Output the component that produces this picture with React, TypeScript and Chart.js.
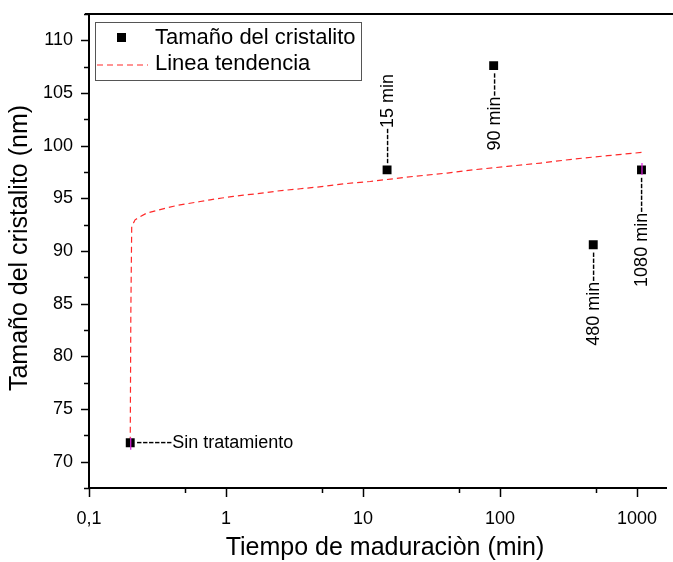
import React, { useEffect, useRef } from 'react';
import { Chart, registerables } from 'chart.js';

Chart.register(...registerables);

// Measured crystallite size per maturation time
const timeMinutes = [0.2, 15, 90, 480, 1080];
const crystalliteSize = [71.8, 97.7, 107.6, 90.6, 97.7];
const pointLabels = ['------Sin tratamiento', '------15 min', '90 min----', '480 min-----', '1080 min------'];

// Trend line traced along the time axis
const trendTime = [0.2, 0.202, 0.205, 0.217, 0.236, 0.264, 0.313, 0.37, 0.438, 0.532, 0.648, 0.767, 0.934, 1.13, 1.34, 1.68, 2.36, 3.49, 5.14, 7.66, 11.3, 15.9, 23.4, 41.3, 64.3, 113, 199, 346, 611, 1080];
const trendSize = [71.8, 84.0, 92.33, 92.96, 93.25, 93.6, 93.85, 94.1, 94.32, 94.51, 94.7, 94.86, 95.03, 95.18, 95.31, 95.43, 95.69, 95.91, 96.13, 96.41, 96.6, 96.83, 97.08, 97.4, 97.71, 98.03, 98.35, 98.73, 99.05, 99.36];

// Axis ticks
const xMajorTicks = [0.1, 1, 10, 100, 1000];
const xMajorLabels = ['0,1', '1', '10', '100', '1000'];
const xMinorTicks = [0.5, 5, 50, 500];
const yMajorTicks = [70, 75, 80, 85, 90, 95, 100, 105, 110];
const yMinorTicks = [67.5, 72.5, 77.5, 82.5, 87.5, 92.5, 97.5, 102.5, 107.5, 112.5];

const FONT = '"Liberation Sans", Arial, sans-serif';
const TREND_COLOR = '#ff2a2a';

const decorPlugin = {
  id: 'decor',
  afterDraw(chart: any) {
    const { ctx, chartArea, scales } = chart;
    const xs = scales.x;
    const ys = scales.y;
    ctx.save();

    // top frame line
    ctx.strokeStyle = '#000';
    ctx.lineWidth = 2;
    ctx.beginPath();
    ctx.moveTo(chartArea.left - 4, chartArea.top);
    ctx.lineTo(chart.width, chartArea.top);
    ctx.stroke();

    // tick marks (outward)
    ctx.lineWidth = 1.5;
    const xTick = (v: number, len: number) => {
      const px = Math.round(xs.getPixelForValue(v)) + 0.5;
      ctx.beginPath();
      ctx.moveTo(px, chartArea.bottom);
      ctx.lineTo(px, chartArea.bottom + len);
      ctx.stroke();
    };
    const yTick = (v: number, len: number) => {
      const py = Math.round(ys.getPixelForValue(v)) + 0.5;
      ctx.beginPath();
      ctx.moveTo(chartArea.left, py);
      ctx.lineTo(chartArea.left - len, py);
      ctx.stroke();
    };
    xMajorTicks.forEach((v) => xTick(v, 9));
    xMinorTicks.forEach((v) => xTick(v, 5));
    yMajorTicks.forEach((v) => yTick(v, 8));
    yMinorTicks.forEach((v) => yTick(v, 5));

    // magenta drop marks on first and last points
    ctx.strokeStyle = '#e020e0';
    ctx.lineWidth = 1.2;
    [0, 4].forEach((i) => {
      const px = xs.getPixelForValue(timeMinutes[i]) + 0.5;
      const py = ys.getPixelForValue(crystalliteSize[i]);
      ctx.beginPath();
      ctx.moveTo(px, py + (i === 0 ? -5 : -7));
      ctx.lineTo(px, py + (i === 0 ? 7 : 5));
      ctx.stroke();
    });

    // point annotations
    ctx.fillStyle = '#000';
    ctx.font = `18px ${FONT}`;
    ctx.textBaseline = 'middle';
    timeMinutes.forEach((t, i) => {
      const px = xs.getPixelForValue(t);
      const py = ys.getPixelForValue(crystalliteSize[i]);
      if (i === 0) {
        ctx.textAlign = 'left';
        ctx.fillText(pointLabels[i], px + 6, py);
        return;
      }
      ctx.save();
      if (i === 1) {
        ctx.translate(px + 1, py - 6);
        ctx.rotate(-Math.PI / 2);
        ctx.textAlign = 'left';
      } else {
        ctx.translate(px + 1, py + 7);
        ctx.rotate(-Math.PI / 2);
        ctx.textAlign = 'right';
      }
      ctx.fillText(pointLabels[i], 0, 0);
      ctx.restore();
    });

    // legend
    ctx.strokeStyle = '#555';
    ctx.lineWidth = 1;
    ctx.strokeRect(95.5, 22.5, 266, 58);
    ctx.fillStyle = '#000';
    ctx.fillRect(117, 33, 9, 9);
    ctx.strokeStyle = TREND_COLOR;
    ctx.lineWidth = 1.2;
    ctx.setLineDash([6, 4]);
    ctx.beginPath();
    ctx.moveTo(97, 65);
    ctx.lineTo(148, 65);
    ctx.stroke();
    ctx.setLineDash([]);
    ctx.font = `22px ${FONT}`;
    ctx.textAlign = 'left';
    ctx.fillStyle = '#000';
    ctx.fillText(chart.data.datasets[0].label, 155, 38);
    ctx.fillText(chart.data.datasets[1].label, 155, 64);

    // axis titles
    ctx.font = `25px ${FONT}`;
    ctx.textAlign = 'center';
    ctx.fillText('Tiempo de maduraciòn (min)', 385, 548);
    ctx.save();
    ctx.translate(20, 248);
    ctx.rotate(-Math.PI / 2);
    ctx.fillText('Tamaño del cristalito (nm)', 0, 0);
    ctx.restore();

    ctx.restore();
  },
};

export default function App() {
  const canvasRef = useRef<HTMLCanvasElement | null>(null);

  useEffect(() => {
    const canvas = canvasRef.current;
    if (!canvas) return;
    const chart = new Chart(canvas, {
      type: 'scatter',
      data: {
        datasets: [
          {
            label: 'Tamaño del cristalito',
            data: timeMinutes.map((t, i) => ({ x: t, y: crystalliteSize[i] })),
            pointStyle: 'rect',
            pointRadius: 6.3,
            pointBackgroundColor: '#000',
            pointBorderColor: '#000',
            pointBorderWidth: 0,
            showLine: false,
          },
          {
            label: 'Linea tendencia',
            data: trendTime.map((t, i) => ({ x: t, y: trendSize[i] })),
            showLine: true,
            pointRadius: 0,
            borderColor: TREND_COLOR,
            borderWidth: 1.2,
            borderDash: [6, 4],
            tension: 0,
          },
        ],
      },
      options: {
        responsive: false,
        animation: false,
        devicePixelRatio: 1,
        layout: { padding: { top: 14, right: 0, left: 0, bottom: 0 } },
        plugins: {
          legend: { display: false },
          tooltip: { enabled: false },
        },
        scales: {
          x: {
            type: 'logarithmic',
            min: 0.1,
            max: 1650,
            grid: { display: false, drawTicks: false },
            border: { display: true, color: '#000', width: 2 },
            afterBuildTicks: (scale: any) => {
              scale.ticks = xMajorTicks.map((v) => ({ value: v }));
            },
            afterFit: (scale: any) => {
              scale.height = 74;
              scale.paddingLeft = 0;
              scale.paddingRight = 0;
            },
            ticks: {
              autoSkip: false,
              maxRotation: 0,
              padding: 20,
              color: '#000',
              font: { family: FONT, size: 18 },
              callback: (_v: any, i: number) => xMajorLabels[i],
            },
          },
          y: {
            type: 'linear',
            min: 67.5,
            max: 112.5,
            grid: { display: false, drawTicks: false },
            border: { display: true, color: '#000', width: 2 },
            afterBuildTicks: (scale: any) => {
              scale.ticks = yMajorTicks.map((v) => ({ value: v }));
            },
            afterFit: (scale: any) => {
              scale.width = 89;
              scale.paddingTop = 0;
              scale.paddingBottom = 0;
            },
            ticks: {
              autoSkip: false,
              padding: 16,
              color: '#000',
              font: { family: FONT, size: 18 },
              callback: (v: any) => String(v),
            },
          },
        },
      },
      plugins: [decorPlugin],
    });
    return () => chart.destroy();
  }, []);

  return (
    <div style={{ position: 'fixed', left: 0, top: 0, width: 673, height: 562, background: '#fff' }}>
      <canvas ref={canvasRef} width={673} height={562} />
    </div>
  );
}
